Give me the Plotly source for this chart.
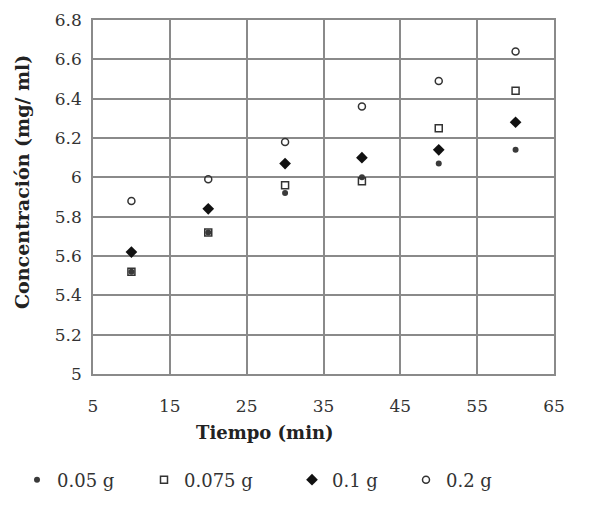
import plotly.graph_objects as go

tiempo = [10, 20, 30, 40, 50, 60]
c_005 = [5.52, 5.72, 5.92, 6.00, 6.07, 6.14]
c_0075 = [5.52, 5.72, 5.96, 5.98, 6.25, 6.44]
c_01 = [5.62, 5.84, 6.07, 6.10, 6.14, 6.28]
c_02 = [5.88, 5.99, 6.18, 6.36, 6.49, 6.64]
names = ["0.05 g", "0.075 g", "0.1 g", "0.2 g"]

markers = [
    dict(symbol="circle", size=6, color="#3a3a3a"),
    dict(symbol="square-open", size=7, color="#333333", line=dict(width=1.5)),
    dict(symbol="diamond", size=9, color="#111111"),
    dict(symbol="circle-open", size=7, color="#333333", line=dict(width=1.5)),
]
legend_ids = ["legend", "legend2", "legend3", "legend4"]

# the page body has an 8px margin; work in page pixels minus that offset
OFF = 8
W, H = 600 - OFF, 507 - OFF
L, R, T, B = 93 - OFF, 46, 20 - OFF, 133
legend_sym_px = [p - OFF - 6 for p in [43, 170, 318, 432]]
FONT = "DejaVu Serif"

fig = go.Figure()
for name, ys, mk, lid in zip(names, [c_005, c_0075, c_01, c_02], markers, legend_ids):
    fig.add_trace(go.Scatter(x=tiempo, y=ys, mode="markers", name=name, marker=mk, legend=lid))

grid = "#8a8a8a"
layout_legends = {}
for lid, px in zip(legend_ids, legend_sym_px):
    layout_legends[lid] = dict(
        orientation="h", xref="container", yref="container",
        x=(px - 20) / W, y=1 - (480 - OFF) / H, xanchor="left", yanchor="middle",
        font=dict(family=FONT, size=18, color="#333"), itemwidth=30,
        bgcolor="rgba(0,0,0,0)", borderwidth=0,
    )

pw, ph = W - L - R, H - T - B
fig.update_layout(
    width=W, height=H,
    margin=dict(l=L, r=R, t=T, b=B, autoexpand=False),
    paper_bgcolor="white", plot_bgcolor="white",
    font=dict(family=FONT, size=17, color="#333333"),
    xaxis=dict(range=[5, 65], tick0=5, dtick=10, showgrid=True, gridcolor=grid, gridwidth=1.5,
               showline=True, linecolor=grid, linewidth=1.5, mirror=True, zeroline=False,
               ticks="", ticklabelstandoff=16, automargin=False),
    yaxis=dict(range=[5, 6.8], dtick=0.2, showgrid=True, gridcolor=grid, gridwidth=1.5,
               showline=True, linecolor=grid, linewidth=1.5, mirror=True, zeroline=False,
               ticks="", ticklabelstandoff=6, automargin=False),
    annotations=[
        dict(text="<b>Tiempo (min)</b>", xref="paper", yref="paper",
             x=(265 - OFF - L) / pw, y=-(432 - OFF - (H - B)) / ph,
             showarrow=False, xanchor="center", yanchor="middle",
             font=dict(family=FONT, size=18, color="#222")),
        dict(text="<b>Concentración (mg/ ml)</b>", xref="paper", yref="paper",
             x=(22 - OFF - L) / pw, y=((H - B) - (182 - OFF)) / ph, textangle=-90,
             showarrow=False, xanchor="center", yanchor="middle",
             font=dict(family=FONT, size=19, color="#222")),
    ],
    showlegend=True,
    **layout_legends,
)
fig.write_html("out.html")
